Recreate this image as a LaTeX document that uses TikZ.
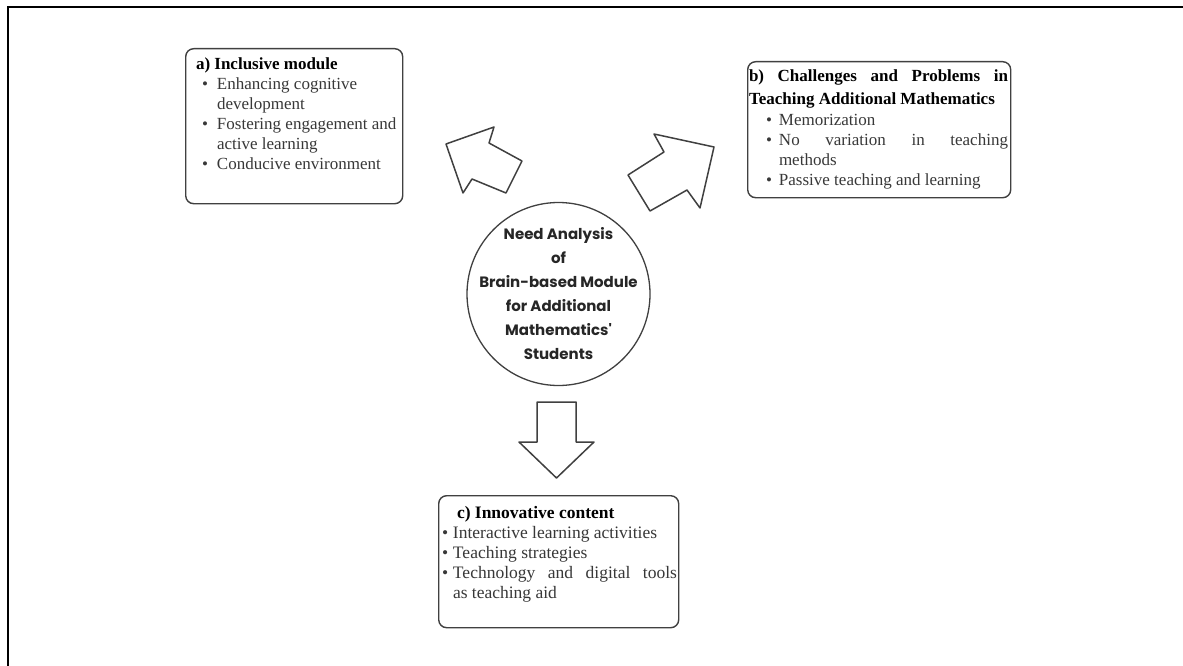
\documentclass[tikz,border=0pt]{standalone}
\usepackage{fontspec}
\setmainfont{Liberation Serif}
\newfontfamily\circfont{Poppins}
\definecolor{bodygray}{gray}{0.22}
\definecolor{edgegray}{gray}{0.25}
\newcommand{\bitem}[2]{\hspace*{#1}\makebox[#2][l]{\textbullet}}
\tikzset{
  panel/.style={draw=edgegray, line width=1.4pt, rounded corners=8pt, fill=white},
  txt/.style={inner sep=0pt, outer sep=0pt, text=bodygray},
  blockarrow/.style={draw=edgegray, line width=1.5pt, line join=round, fill=white},
  hub/.style={draw=edgegray, line width=1.3pt, circle, inner sep=0pt, minimum size=183pt},
  frame/.style={draw=black, line width=1.6pt}
}
\begin{document}
\begin{tikzpicture}[x=1pt,y=-1pt]
\useasboundingbox (0,0) rectangle (1183,666);
\fill[white] (0,0) rectangle (1183,666);
\draw[frame] (8,670) -- (8,7) -- (1190,7);

% boxes
\node[panel, minimum width=217pt, minimum height=155pt, anchor=north west] (boxa) at (185,48) {};
\node[panel, minimum width=263pt, minimum height=136pt, anchor=north west] (boxb) at (747,61) {};
\node[panel, minimum width=240pt, minimum height=132pt, anchor=north west] (boxc) at (438,495) {};

% box a text
\node[txt, anchor=base west] (ta) at (196,70) {\parbox[t]{215pt}{\fontsize{17}{20}\selectfont
\textcolor{black}{\textbf{a) Inclusive module}}\\
\bitem{6pt}{15pt}Enhancing cognitive\\
\hspace*{21pt}development\\
\bitem{6pt}{15pt}Fostering engagement and\\
\hspace*{21pt}active learning\\
\bitem{6pt}{15pt}Conducive environment}};

% box b text
\node[txt, anchor=base west] (tb) at (749,82) {\parbox[t]{262pt}{\fontsize{17}{20}\selectfont
\textcolor{black}{\textbf{\makebox[259pt][s]{b) Challenges and Problems in}}}\\[3pt]
\textcolor{black}{\textbf{Teaching Additional Mathematics}}\\[1pt]
\bitem{17pt}{13pt}Memorization\\
\bitem{17pt}{13pt}\makebox[229pt][s]{No variation in teaching}\\
\hspace*{30pt}methods\\
\bitem{17pt}{13pt}Passive teaching and learning}};

% box c text
\node[txt, anchor=base west] (tc) at (442,518) {\parbox[t]{240pt}{\fontsize{17.5}{20}\selectfont
\hspace*{15pt}\textcolor{black}{\textbf{c) Innovative content}}\\
\bitem{0pt}{11pt}Interactive learning activities\\
\bitem{0pt}{11pt}Teaching strategies\\
\bitem{0pt}{11pt}\makebox[224pt][s]{Technology and digital tools}\\
\hspace*{11pt}as teaching aid}};

% central circle
\node[hub] (hub) at (558.5,294) {};
\node[inner sep=0pt, align=center, font=\circfont\bfseries\fontsize{15}{24}\selectfont, text=black!85] (hubtext) at (hub.center) {Need Analysis\\of\\Brain-based Module\\for Additional\\Mathematics'\\Students};

% block arrows
\draw[blockarrow] (446,144) -- (494,127) -- (489,143) -- (522,161) -- (506,193) -- (472,179) -- (463,193) -- cycle;
\draw[blockarrow] (714,147) -- (654,134) -- (664,152) -- (628,175) -- (650,211) -- (687,190) -- (700,208) -- cycle;
\draw[blockarrow] (537,402) -- (576,402) -- (576,442) -- (594,442) -- (556.5,478) -- (519,442) -- (537,442) -- cycle;
\end{tikzpicture}
\end{document}
